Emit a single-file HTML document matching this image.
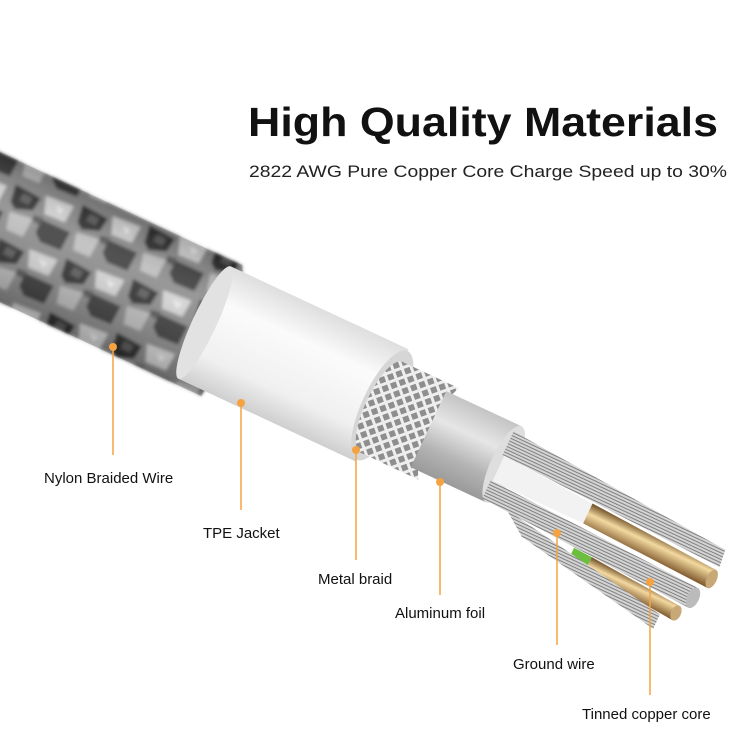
<!DOCTYPE html>
<html><head><meta charset="utf-8"><style>
html,body{margin:0;padding:0;background:#fff;}
svg{display:block;}
text{font-family:"Liberation Sans",sans-serif;}
</style></head><body>
<svg width="740" height="740" viewBox="0 0 740 740" xmlns="http://www.w3.org/2000/svg">
<defs>
<filter id="blur" x="-5%" y="-5%" width="110%" height="110%"><feGaussianBlur stdDeviation="1.6"/></filter>
<pattern id="braid" width="70" height="56" patternUnits="userSpaceOnUse" patternTransform="rotate(-8)">
<rect width="70" height="56" fill="#8a8a8a"/>
<path d="M0 2 L28 8 L24 22 L6 26 L0 20Z" fill="#2f2f2f"/>
<path d="M35 28 L66 32 L62 52 L40 50 L33 42Z" fill="#3a3a3a"/>
<path d="M32 4 L62 6 L58 24 L36 22Z" fill="#d4d4d4"/>
<path d="M2 30 L26 30 L22 50 L4 48Z" fill="#bdbdbd"/>
<path d="M10 8 L20 10 L18 18 L8 16Z" fill="#5a5a5a"/>
<path d="M44 10 L54 12 L50 18Z" fill="#f0f0f0"/>
<path d="M26 26 L36 26 L34 34 L26 32Z" fill="#555"/>
</pattern>
<linearGradient id="shade" x1="0" y1="0" x2="0" y2="1">
<stop offset="0" stop-color="#000" stop-opacity="0.2"/>
<stop offset="0.35" stop-color="#fff" stop-opacity="0.12"/>
<stop offset="1" stop-color="#000" stop-opacity="0.25"/>
</linearGradient>
<linearGradient id="tpe" x1="0" y1="0" x2="0" y2="1">
<stop offset="0" stop-color="#dedede"/>
<stop offset="0.3" stop-color="#fbfbfb"/>
<stop offset="0.75" stop-color="#f0f0f0"/>
<stop offset="1" stop-color="#cfcfcf"/>
</linearGradient>
<linearGradient id="foil" x1="0" y1="0" x2="0" y2="1">
<stop offset="0" stop-color="#c4c4c4"/>
<stop offset="0.35" stop-color="#e6e6e6"/>
<stop offset="0.7" stop-color="#b4b4b4"/>
<stop offset="1" stop-color="#9a9a9a"/>
</linearGradient>
<linearGradient id="cu" x1="0" y1="0" x2="0" y2="1">
<stop offset="0" stop-color="#6b4a22"/>
<stop offset="0.4" stop-color="#f3d9a0"/>
<stop offset="1" stop-color="#7a5428"/>
</linearGradient>
<pattern id="mesh" width="9" height="9" patternUnits="userSpaceOnUse" patternTransform="rotate(45)">
<rect width="9" height="9" fill="#eeeeee"/>
<rect x="2" y="2" width="6" height="6" fill="#8e8e8e"/>
</pattern>
<pattern id="lines" width="6" height="3" patternUnits="userSpaceOnUse">
<rect width="6" height="3" fill="#d4d4d4"/>
<rect width="6" height="1" fill="#808080"/>
</pattern>
</defs>

<text x="248" y="136" font-size="41" font-weight="bold" fill="#111" textLength="470" lengthAdjust="spacingAndGlyphs">High Quality Materials</text>
<text x="249" y="177" font-size="17" fill="#222" textLength="478" lengthAdjust="spacingAndGlyphs">2822 AWG Pure Copper Core Charge Speed up to 30%</text>

<g transform="translate(0,236) rotate(25)">
  <!-- braid -->
  <g filter="url(#blur)">
  <path d="M-80 -76 L232 -76 Q246 -50 238 -20 Q256 20 250 60 L-80 60Z" fill="url(#braid)"/>
  </g>
  <path d="M-80 -76 L232 -76 Q246 -50 238 -20 Q256 20 250 60 L-80 60Z" fill="url(#shade)"/>
  <!-- TPE -->
  <rect x="222" y="-70" width="196" height="124" fill="url(#tpe)"/>
  <ellipse cx="222" cy="-8" rx="12" ry="62" fill="#e2e2e2"/>
  <ellipse cx="418" cy="-8" rx="20" ry="60" fill="#d6d6d6"/>
  <!-- metal braid -->
  <path d="M418 -56 L480 -56 L470 -30 L482 -5 L470 20 L482 44 L418 44Z" fill="url(#mesh)"/>
  <ellipse cx="418" cy="-6" rx="16" ry="50" fill="url(#mesh)"/>
  <!-- foil -->
  <rect x="470" y="-48" width="83" height="84" fill="url(#foil)"/>
  <ellipse cx="553" cy="-6" rx="13" ry="42" fill="#dedede"/>
  <!-- cores -->
  <path d="M548 -40 L790 -22 L792 -4 L548 -14Z" fill="url(#lines)"/>
  <path d="M550 -14 L650 -8 L650 14 L550 14Z" fill="#f2f2f2"/>
  <path d="M650 -8 L790 0 L790 20 L650 14Z" fill="url(#cu)"/>
  <ellipse cx="790" cy="10" rx="5" ry="10" fill="#c9a878"/>
  <path d="M548 14 L780 24 L782 46 L548 34Z" fill="url(#lines)"/>
  <ellipse cx="781" cy="35" rx="6" ry="11" fill="#bbb"/>
  <path d="M652 40 L672 41 L672 54 L652 52Z" fill="#6cbf3e"/>
  <path d="M672 41 L772 48 L772 64 L672 56Z" fill="url(#cu)"/>
  <ellipse cx="772" cy="56" rx="5" ry="8" fill="#c9a878"/>
  <path d="M575 34 L758 64 L758 80 L600 52Z" fill="url(#lines)"/>
</g>

<g stroke="#f5a341" stroke-width="1.5" fill="none">
<line x1="113" y1="347" x2="113" y2="455"/>
<line x1="241" y1="403" x2="241" y2="510"/>
<line x1="356" y1="450" x2="356" y2="560"/>
<line x1="440" y1="482" x2="440" y2="595"/>
<line x1="557" y1="533" x2="557" y2="645"/>
<line x1="650" y1="582" x2="650" y2="695"/>
</g>
<g fill="#f5a341">
<circle cx="113" cy="347" r="4"/>
<circle cx="241" cy="403" r="4"/>
<circle cx="356" cy="450" r="4"/>
<circle cx="440" cy="482" r="4"/>
<circle cx="557" cy="533" r="4"/>
<circle cx="650" cy="582" r="4"/>
</g>
<g font-size="15" fill="#111">
<text x="44" y="483">Nylon Braided Wire</text>
<text x="203" y="538">TPE Jacket</text>
<text x="318" y="584">Metal braid</text>
<text x="395" y="618">Aluminum foil</text>
<text x="513" y="669">Ground wire</text>
<text x="582" y="719">Tinned copper core</text>
</g>
</svg>
</body></html>
